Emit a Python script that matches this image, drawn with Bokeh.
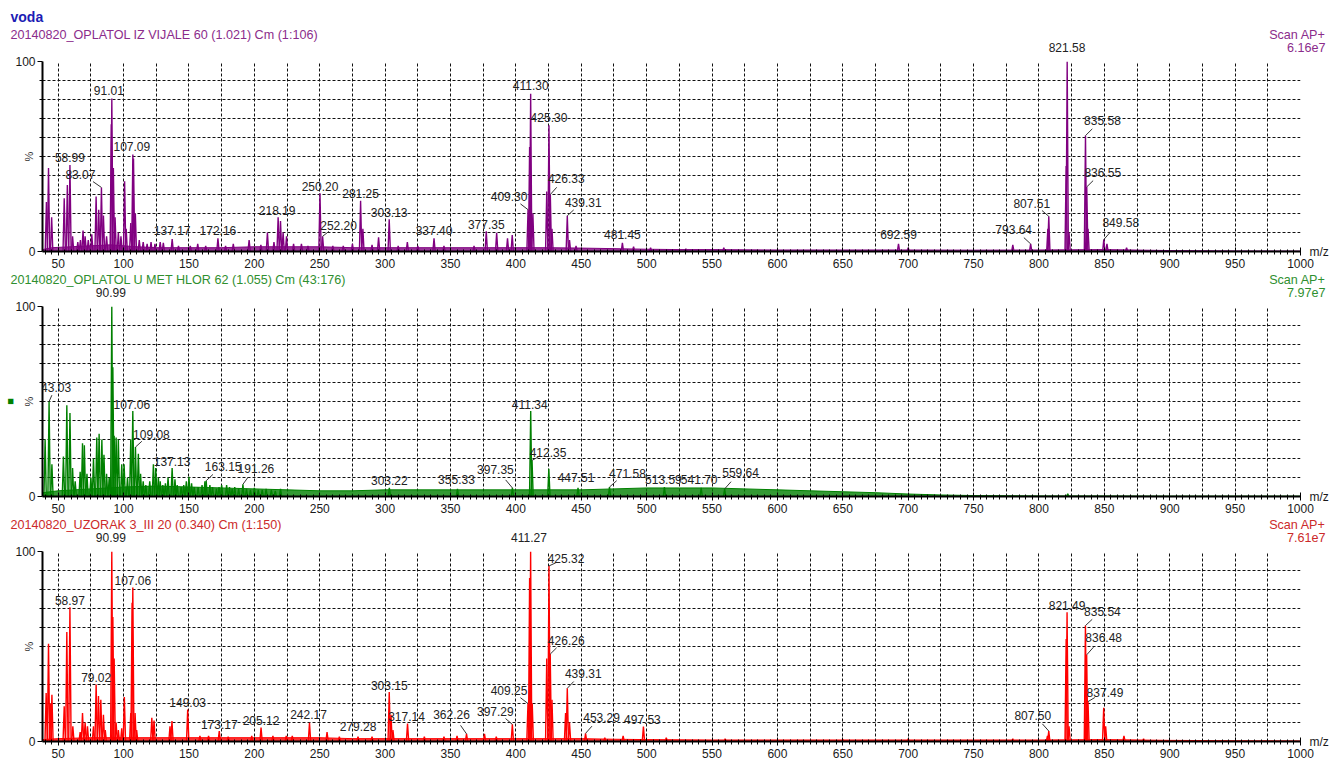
import math
from bokeh.plotting import figure
from bokeh.models import (ColumnDataSource, LabelSet, Range1d, SingleIntervalTicker, FixedTicker,
                          LinearAxis)
from bokeh.layouts import column
from bokeh.core.properties import value
from bokeh.embed import file_html
from bokeh.resources import INLINE

# ---------------- data ----------------
TITLES = ["20140820_OPLATOL IZ VIJALE 60 (1.021) Cm (1:106)",
          "20140820_OPLATOL U MET HLOR 62 (1.055) Cm (43:176)",
          "20140820_UZORAK 3_III 20 (0.340) Cm (1:150)"]
SCAN_MAX = ["6.16e7", "7.97e7", "7.61e7"]
HEADER = "voda"

# panel 1 (purple) - unlabeled peaks
P1_MZ = [41.0, 42.6, 45.0, 54.6, 57.0, 61.0, 65.0, 67.0, 69.0, 70.6,
         73.0, 75.7, 79.0, 81.0, 84.6, 87.0, 90.6, 92.2, 93.5, 96.0,
         98.0, 100.8, 102.0, 105.5, 107.6, 109.0, 112.0, 115.0, 118.0, 121.0,
         124.0, 128.0, 130.4, 142.0, 151.0, 156.7, 162.8, 178.0, 183.9, 196.0,
         205.0, 210.0, 215.0, 220.0, 222.0, 224.6, 230.0, 236.0, 241.0, 260.0,
         268.0, 275.0, 283.0, 290.0, 295.0, 310.0, 317.0, 325.0, 345.0, 368.0,
         385.3, 393.6, 397.2, 410.5, 413.0, 423.6, 427.6, 441.0, 446.0, 490.0,
         503.0, 530.0, 559.0, 700.0, 780.0, 806.8, 820.8, 823.0, 837.5, 852.0,
         867.0]
P1_INT = [26, 44, 18, 28, 35, 8, 5, 6, 11, 8,
          6, 9, 29, 22, 19, 8, 67, 44, 18, 10,
          8, 37, 12, 15, 49, 20, 6, 5, 4, 5,
          4, 5, 4.5, 3, 3, 4, 3, 3, 4, 6,
          3.5, 10, 5, 16, 10, 8, 4, 4, 3, 3,
          3, 4, 12, 3.5, 7.5, 3, 5, 3, 3, 3,
          9.8, 7, 8.6, 55, 20, 31.6, 12, 6, 3, 2.5,
          2, 1.5, 2, 2, 3.5, 12, 45, 10, 12, 4,
          2]
P1_LAB_MZ = [58.99, 83.07, 91.01, 107.09, 137.17, 172.16, 218.19, 250.20, 252.20, 281.25,
             303.13, 337.40, 377.35, 409.30, 411.30, 425.30, 426.33, 439.31, 481.45, 692.59,
             793.64, 807.51, 821.58, 835.58, 836.55, 849.58]
P1_LAB_INT = [45.5, 33.7, 80.5, 51, 6.6, 7, 18, 30.7, 8, 26.7,
              17, 7, 10.6, 22, 83, 66.5, 30, 18.8, 4.5, 4,
              4, 18.5, 100, 61, 34, 6.3]
P1_ENV_MZ = [38, 45, 60, 75, 90, 100, 110, 125, 150, 175, 200, 225, 250, 275, 300, 325, 350,
             375, 400, 425, 450, 475, 500, 525, 550, 600, 650, 700, 750, 800, 850, 900, 950, 1000]
P1_ENV_LVL = [1.0, 2.0, 2.5, 3.0, 3.5, 3.0, 2.5, 2.0, 2.0, 2.0, 2.5, 2.5, 2.5, 2.0, 2.0, 2.0, 2.0,
              2.0, 2.0, 2.0, 1.8, 1.5, 1.2, 1.0, 1.0, 0.8, 0.8, 0.8, 0.7, 0.8, 1.0, 0.5, 0.3, 0.2]

# panel 2 (green)
P2_MZ = [40.0, 45.2, 54.0, 56.6, 59.0, 61.0, 63.0, 66.8, 68.6, 70.0,
         72.0, 75.0, 77.0, 79.5, 81.3, 83.4, 85.0, 87.0, 89.0, 91.8,
         92.8, 94.3, 96.0, 98.6, 100.4, 103.0, 105.5, 111.3, 113.0, 115.0,
         117.0, 120.0, 122.8, 124.6, 126.6, 128.0, 130.0, 132.0, 134.0, 139.3,
         141.0, 144.0, 146.0, 148.0, 150.0, 152.0, 154.0, 157.0, 160.0, 162.2,
         166.0, 168.0, 171.0, 173.0, 175.0, 178.8, 181.0, 183.0, 185.0, 188.0,
         194.0, 197.0, 200.0, 203.0, 206.0, 209.0, 213.0, 216.0, 220.0, 425.2,
         822.0]
P2_INT = [30, 17, 21, 48, 44, 15, 8, 13, 28, 27,
          12, 10, 20, 31, 33, 30, 22, 12, 10, 68,
          32, 31, 30, 17, 17, 10, 30, 22.5, 12, 8,
          6, 8, 17, 15, 10, 8, 6, 7, 10, 9,
          6, 5, 6, 8, 10.4, 7, 5, 5, 6, 8,
          6, 5, 4, 5, 6, 6, 5, 4, 5, 4,
          4, 3.5, 4.5, 3.5, 3.5, 4, 3.5, 3, 4, 14.6,
          1.5]
P2_LAB_MZ = [43.03, 90.99, 107.06, 109.08, 137.13, 163.15, 191.26, 303.22, 355.33, 397.35,
             411.34, 412.35, 447.51, 471.58, 513.59, 541.70, 559.64]
P2_LAB_INT = [50, 100, 45, 26, 15, 8.3, 6.4, 4.5, 4, 4.5,
              45, 19, 4.5, 5, 5, 4.5, 4]
P2_ENV_MZ = [38, 50, 75, 100, 125, 150, 175, 200, 225, 250, 275, 300, 325, 350, 375, 400, 425,
             450, 475, 500, 525, 550, 575, 600, 625, 650, 675, 700, 725, 750, 800, 850, 900, 1000]
P2_ENV_LVL = [2, 3, 4, 5, 5.5, 5, 4.5, 4, 3.5, 3, 3, 3.5, 3.5, 3.5, 3.5, 3.5, 3.5,
              3.5, 4, 4.5, 4.5, 4.5, 4, 3.5, 3, 2.5, 2, 1.3, 0.8, 0.5, 0.3, 0.3, 0.2, 0.2]

# panel 3 (red)
P3_MZ = [40.8, 42.6, 44.0, 45.2, 54.6, 56.6, 61.2, 66.8, 68.6, 70.6,
         72.4, 77.0, 80.8, 82.6, 84.6, 86.0, 91.8, 92.8, 94.3, 96.0,
         98.6, 100.6, 105.5, 106.5, 108.8, 110.0, 121.6, 123.3, 135.5, 137.0,
         158.4, 165.0, 180.0, 198.0, 214.2, 224.4, 229.0, 255.6, 265.0, 290.0,
         304.5, 306.0, 330.0, 345.0, 355.0, 376.0, 385.0, 410.5, 412.5, 423.6,
         427.6, 438.0, 441.0, 468.0, 482.0, 515.0, 560.0, 650.0, 700.0, 780.0,
         806.5, 820.8, 823.0, 849.5, 851.0, 865.0, 880.0]
P3_INT = [25.5, 51.5, 20, 24.6, 18.6, 57.6, 8, 5, 15, 10,
          8, 8, 24, 22, 14, 6, 65.5, 43.7, 10, 6,
          7, 23.4, 15, 73, 15, 6, 12.5, 11, 8, 10.8,
          3, 3, 2.5, 3, 3, 3, 3, 5, 2.5, 2.5,
          14, 6, 2.5, 2.5, 3, 4, 2.5, 86, 20, 43.7,
          22, 15, 10, 2, 3, 2, 1.5, 1.2, 1.5, 1.5,
          3, 54, 8, 17.7, 8, 3, 1.5]
P3_LAB_MZ = [58.97, 79.02, 90.99, 107.06, 149.03, 173.17, 205.12, 242.17, 279.28, 303.15,
             317.14, 362.26, 397.29, 409.25, 411.27, 425.32, 426.26, 439.31, 453.29, 497.53,
             807.50, 821.49, 835.54, 836.48, 837.49]
P3_LAB_INT = [70.7, 30, 100, 81, 16.8, 5.5, 7.3, 9.9, 2.5, 26,
              9.4, 4, 9, 20, 100, 92.4, 46, 28, 4.3, 7.8,
              5.5, 68, 61, 45.6, 21]
P3_ENV_MZ = [38, 50, 75, 100, 125, 150, 175, 200, 225, 250, 275, 300, 325, 350, 375, 400, 425,
             450, 475, 500, 550, 600, 650, 700, 750, 800, 850, 900, 950, 1000]
P3_ENV_LVL = [1, 1.5, 2, 2, 2, 2, 2, 2, 2, 2, 1.5, 1.5, 1.5, 1.5, 1.5, 1.5, 1.5,
              1.5, 1.2, 1.0, 0.8, 0.8, 0.8, 0.8, 0.8, 0.8, 1.0, 0.6, 0.4, 0.3]

# ---------------- label placement (screen px offsets of label centre from peak top) ----------------
P1_LAB_OFF = [(0, -8), (-21, -13), (-3, -8), (-1, -8), (0, -8), (0, -8), (-1, -7), (0, -7), (16, -11), (0, -7),
              (0, -7), (0, -8), (0, -7), (-19, -13), (0, -8), (0, -8), (16, -16), (16, -13), (0, -8), (0, -9),
              (-17, -14), (-17, -13), (0, -14), (17, -15), (16, -14), (17, -17)]
P2_LAB_OFF = [(7, -14), (0, -14), (-1, -7), (16, -13), (0, -7), (17, -14), (13, -16), (0, -7), (-1, -9), (-17, -18),
              (-1, -7), (16, -8), (-2, -10), (18, -14), (-1, -8), (-2, -8), (16, -16)]
P3_LAB_OFF = [(0, -7), (0, -7), (0, -14), (0, -7), (0, -7), (0, -7), (0, -7), (-1, -8), (0, -10), (0, -7),
              (-1, -7), (-15, -19), (-17, -13), (-19, -13), (-1, -14), (17, -7), (16, -14), (16, -15), (16, -16), (-1, -7),
              (-16, -16), (0, -7), (17, -14), (17, -17), (17, -9)]

# ---------------- layout / style ----------------
X_MIN, X_MAX = 38, 1000
W = 1335
BL, BR = 41, 35
GAP = 7            # chart top border (room for the "100" tick label)
FRAME_H = 190
BB = 21            # chart bottom border (x tick labels)
HEAD_H = [54, 27, 27]
XPX = (W - BL - BR) / (X_MAX - X_MIN)
YPX = FRAME_H / 100.0
FONT = "Liberation Sans"
HALF_W = 0.9
LABEL_COLOR = "#222222"


def label_positions(lab_mz, lab_int, lab_off):
    out = []
    for m, h, (dx, dy) in zip(lab_mz, lab_int, lab_off):
        out.append((m, h, dx, dy, m + dx / XPX, h - dy / YPX, f"{m:.2f}"))
    return out


def make_header(idx, height, text_color, title_up, scan_up, max_up, labels, header=False):
    hf = figure(width=W, height=height,
                x_range=Range1d(X_MIN - BL / XPX, X_MAX + BR / XPX),
                y_range=Range1d(100 + GAP / YPX, 100 + (GAP + height) / YPX),
                x_axis_type=None, y_axis_type=None, title=None,
                output_backend="svg", toolbar_location=None,
                min_border_left=0, min_border_right=0, min_border_top=0, min_border_bottom=0)
    if "frame_align" in hf.properties():
        hf.frame_align = False
    hf.outline_line_color = None
    hf.background_fill_color = "white"
    hf.border_fill_color = "white"
    x_left = X_MIN - 31 / XPX
    x_right = X_MAX + 25 / XPX
    if header:
        hf.text(x=[x_left], y=[100 + 45 / YPX], text=[HEADER], text_align="left",
                text_baseline="middle", text_font=value(FONT), text_font_size="14px",
                text_font_style="bold", text_color="#1c1cb4")
    hf.text(x=[x_left], y=[100 + title_up / YPX], text=[TITLES[idx]], text_align="left",
            text_baseline="middle", text_font=value(FONT), text_font_size="12.6px",
            text_color=text_color)
    hf.text(x=[x_right, x_right], y=[100 + scan_up / YPX, 100 + max_up / YPX],
            text=["Scan AP+", SCAN_MAX[idx]], text_align="right", text_baseline="middle",
            text_font=value(FONT), text_font_size="12.6px", text_color=text_color)
    top = [l for l in labels if l[5] > 100]
    if top:
        hf.text(x=[l[4] for l in top], y=[l[5] for l in top], text=[l[6] for l in top],
                text_align="center", text_baseline="middle", text_font=value(FONT),
                text_font_size="12px", text_color=LABEL_COLOR)
    return hf


def make_chart(line_color, peaks_mz, peaks_int, labels, env_mz, env_lvl, marker=False):
    p = figure(width=W, height=GAP + FRAME_H + BB,
               x_range=Range1d(X_MIN, X_MAX), y_range=Range1d(0, 100), title=None,
               output_backend="svg", toolbar_location=None,
               min_border_left=BL, min_border_right=BR,
               min_border_top=GAP, min_border_bottom=BB)
    p.outline_line_color = None
    p.background_fill_color = "white"
    p.border_fill_color = "white"

    xa = p.xaxis[0]
    xa.ticker = SingleIntervalTicker(interval=50, num_minor_ticks=10)
    xa.axis_line_width = 2
    xa.axis_line_color = "black"
    xa.major_tick_in = 4
    xa.major_tick_out = 4
    xa.minor_tick_in = 2
    xa.minor_tick_out = 3
    xa.major_label_standoff = 3
    xa.major_label_text_font = FONT
    xa.major_label_text_font_size = "12px"
    xa.major_label_text_color = "#1a1a1a"

    ya = p.yaxis[0]
    ya.ticker = FixedTicker(ticks=[0, 100], minor_ticks=list(range(10, 100, 10)))
    ya.axis_line_width = 2
    ya.axis_line_color = "black"
    ya.major_tick_in = 0
    ya.major_tick_out = 5
    ya.minor_tick_in = 0
    ya.minor_tick_out = 3
    ya.major_label_standoff = 2
    ya.major_label_text_font = FONT
    ya.major_label_text_font_size = "12px"
    ya.major_label_text_color = "#1a1a1a"
    ya.axis_label = "%"
    ya.axis_label_standoff = -23
    ya.axis_label_text_font = FONT
    ya.axis_label_text_font_size = "11px"
    ya.axis_label_text_font_style = "normal"
    ya.axis_label_text_color = "#333333"

    if marker:
        ma = LinearAxis(ticker=FixedTicker(ticks=[]), axis_label="\u25a0")
        ma.axis_line_color = None
        ma.major_tick_line_color = None
        ma.minor_tick_line_color = None
        ma.major_tick_out = 0
        ma.major_tick_in = 0
        ma.axis_label_standoff = 5
        ma.axis_label_text_font_size = "11px"
        ma.axis_label_text_font_style = "normal"
        ma.axis_label_text_color = "#008000"
        p.add_layout(ma, "left")

    ra = LinearAxis(ticker=FixedTicker(ticks=[0]), major_label_overrides={0: "m/z"})
    ra.axis_line_color = None
    ra.major_tick_line_color = None
    ra.minor_tick_line_color = None
    ra.major_tick_out = 0
    ra.major_tick_in = 0
    ra.major_label_standoff = 9
    ra.major_label_text_font = FONT
    ra.major_label_text_font_size = "12px"
    ra.major_label_text_color = "#1a1a1a"
    p.add_layout(ra, "right")

    p.xgrid[0].ticker = SingleIntervalTicker(interval=25)
    p.xgrid[0].bounds = (0, 2000)
    p.ygrid[0].ticker = FixedTicker(ticks=list(range(10, 101, 10)))
    p.ygrid[0].bounds = (-1000, 1000)
    for g in (p.xgrid[0], p.ygrid[0]):
        g.grid_line_color = "#111111"
        g.grid_line_dash = "3 2"
        g.grid_line_width = 1

    # noise envelope
    p.varea(x=env_mz, y1=[0] * len(env_mz), y2=env_lvl, fill_color=line_color, fill_alpha=0.8)
    p.line(env_mz, env_lvl, line_color=line_color, line_width=1)

    # peaks as narrow profile triangles
    all_mz = list(peaks_mz) + [l[0] for l in labels]
    all_int = list(peaks_int) + [l[1] for l in labels]
    xs = [[m - HALF_W, m, m + HALF_W] for m in all_mz]
    ys = [[0, h, 0] for h in all_int]
    p.multi_line(xs, ys, line_color=line_color, line_width=1.4)

    # leaders
    lead = [l for l in labels if abs(l[2]) >= 5]
    p.segment(x0=[l[0] for l in lead], y0=[l[1] for l in lead],
              x1=[l[0] + 0.4 * l[2] / XPX for l in lead],
              y1=[l[1] - 0.45 * l[3] / YPX for l in lead],
              line_color="#333333", line_width=1)
    inner = [l for l in labels if l[5] <= 100]
    src = ColumnDataSource(dict(x=[l[4] for l in inner], y=[l[5] for l in inner],
                                text=[l[6] for l in inner]))
    p.add_layout(LabelSet(x="x", y="y", text="text", source=src,
                          text_align="center", text_baseline="middle",
                          text_font=value(FONT), text_font_size="12px",
                          text_color=LABEL_COLOR))
    return p


L1 = label_positions(P1_LAB_MZ, P1_LAB_INT, P1_LAB_OFF)
L2 = label_positions(P2_LAB_MZ, P2_LAB_INT, P2_LAB_OFF)
L3 = label_positions(P3_LAB_MZ, P3_LAB_INT, P3_LAB_OFF)

h1 = make_header(0, HEAD_H[0], "#8b2c8b", 27, 27, 14, L1, header=True)
c1 = make_chart("#800080", P1_MZ, P1_INT, L1, P1_ENV_MZ, P1_ENV_LVL)
h2 = make_header(1, HEAD_H[1], "#2f8f2f", 27, 27, 14, L2)
c2 = make_chart("#008000", P2_MZ, P2_INT, L2, P2_ENV_MZ, P2_ENV_LVL, marker=True)
h3 = make_header(2, HEAD_H[2], "#cc2a2a", 27, 27, 14, L3)
c3 = make_chart("#ff0000", P3_MZ, P3_INT, L3, P3_ENV_MZ, P3_ENV_LVL)

layout = column(h1, c1, h2, c2, h3, c3, spacing=0)
open("out.html", "w").write(file_html(layout, INLINE))
